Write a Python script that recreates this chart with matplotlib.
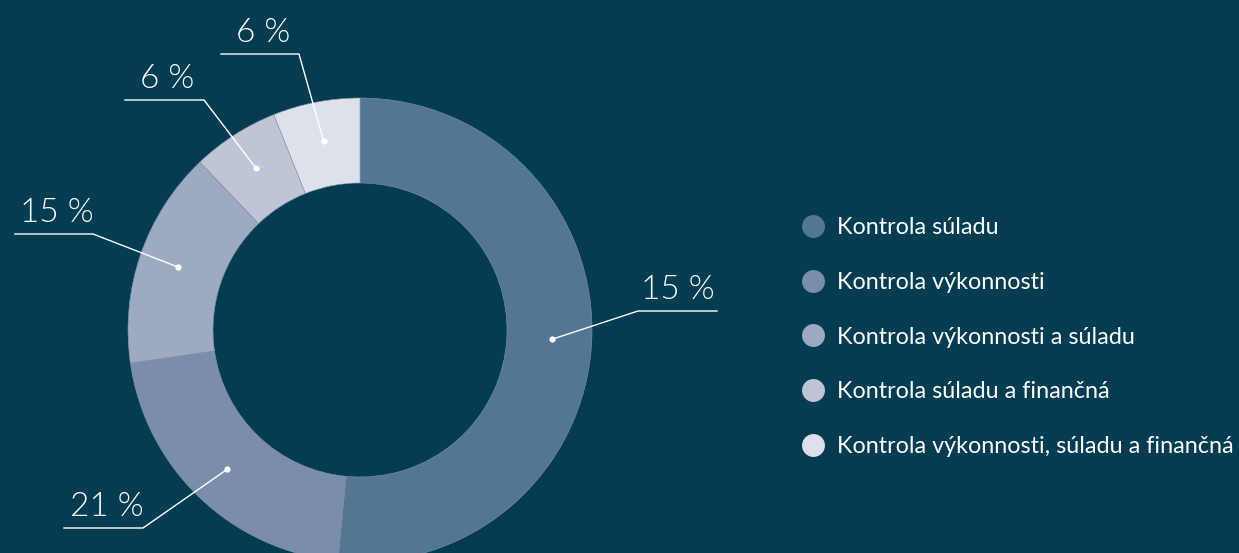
import matplotlib
matplotlib.use("Agg")
import matplotlib.pyplot as plt
from matplotlib.lines import Line2D
import numpy as np

# data
categories = ["Kontrola súladu",
              "Kontrola výkonnosti",
              "Kontrola výkonnosti a súladu",
              "Kontrola súladu a finančná",
              "Kontrola výkonnosti, súladu a finančná"]
values = [17, 7, 5, 2, 2]
pct_labels = ["15 %", "21 %", "15 %", "6 %", "6 %"]

colors = ["#537694", "#7a8eab", "#9eaac0", "#c0c5d5", "#dee1ea"]
bg = "#043c51"

W, H = 1239, 553
fig = plt.figure(figsize=(W / 100, H / 100), dpi=100, facecolor=bg)
ax = fig.add_axes([0, 0, 1, 1])
ax.set_facecolor(bg)

cx, cy = 360, H - 330
R = 232
width = 85

wedges, _ = ax.pie(values, colors=colors, startangle=90, counterclock=False,
                   radius=R, center=(cx, cy),
                   wedgeprops=dict(width=width, edgecolor="#8494a8", linewidth=0.4))

# leader lines: elbow point and end of underline (image px)
elbows = [(638, 311), (143, 528), (93, 234), (204, 100), (299, 54)]
ends = [(717, 311), (64, 528), (15, 234), (125, 100), (221, 54)]

font_pct = dict(family=["Lato", "DejaVu Sans"], weight=300, size=24, color="white")

for w, lab, (ex, ey), (tx, ty) in zip(wedges, pct_labels, elbows, ends):
    ang = np.deg2rad((w.theta1 + w.theta2) / 2)
    r = 0.83 * R
    px, py = cx + r * np.cos(ang), cy + r * np.sin(ang)
    ey, ty = H - ey, H - ty
    ax.plot([px, ex, tx], [py, ey, ty], color="white", lw=1, solid_joinstyle="miter")
    ax.plot(px, py, "o", color="white", ms=4.5, mec="none")
    ax.text((ex + tx) / 2 + (3 if tx < ex else 0), ey + 6, lab, ha="center", va="bottom", **font_pct)

handles = [Line2D([], [], marker="o", ls="none", ms=16.5, mfc=c, mec="none") for c in colors]
leg = ax.legend(handles, categories, loc="upper left", bbox_to_anchor=(800 / W, 1 - 217 / H),
                frameon=False, labelcolor="white", labelspacing=1.45,
                handletextpad=0.45, handlelength=1.15, borderpad=0, borderaxespad=0,
                prop=dict(family=["Lato", "DejaVu Sans"], size=16.8))

ax.set_xlim(0, W)
ax.set_ylim(0, H)
ax.set_aspect("equal")
ax.axis("off")

fig.savefig("out.png", dpi=100, facecolor=bg)
